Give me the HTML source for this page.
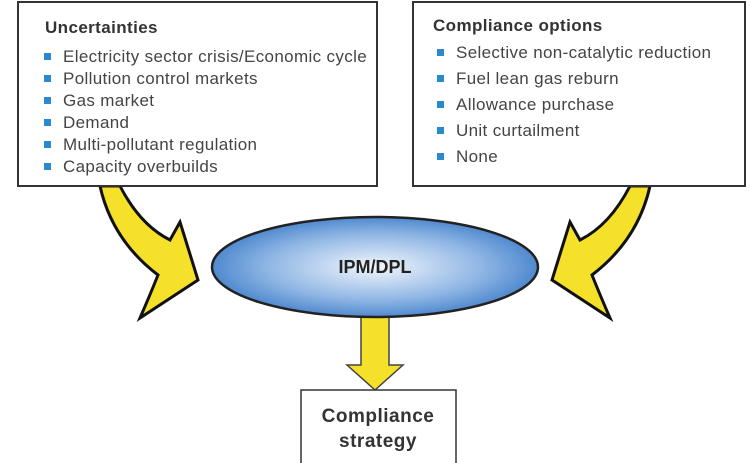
<!DOCTYPE html>
<html><head><style>
body{margin:0;width:750px;height:463px;overflow:hidden;background:#fff;font-family:"Liberation Sans",sans-serif}
svg{position:absolute;left:0;top:0}
</style></head><body>
<svg width="750" height="463" viewBox="0 0 750 463">
<defs>
<radialGradient id="g" cx="0.5" cy="0.5" r="0.55">
<stop offset="0" stop-color="#f2f6fc"/><stop offset="0.6" stop-color="#8fb6e4"/><stop offset="1" stop-color="#3d7cc9"/>
</radialGradient>
</defs>
<path d="M120 186 Q140 225 170 240 L180 222 L198 280 L140 318 Q150 295 158 275 Q112 240 100 186 Z" fill="#f5e12a" stroke="#111" stroke-width="3" stroke-linejoin="miter"/>
<path d="M630 186 Q610 225 580 240 L570 222 L552 280 L610 318 Q600 295 592 275 Q638 240 650 186 Z" fill="#f5e12a" stroke="#111" stroke-width="3"/>
<rect x="18" y="2" width="359" height="184" fill="#fff" stroke="#333" stroke-width="2"/>
<rect x="413" y="2" width="332" height="184" fill="#fff" stroke="#333" stroke-width="2"/>
<g font-size="17" fill="#444" letter-spacing="0.35">
<text x="45" y="33" font-weight="bold" fill="#333" letter-spacing="0.4">Uncertainties</text>
<text x="63" y="62">Electricity sector crisis/Economic cycle</text>
<text x="63" y="84">Pollution control markets</text>
<text x="63" y="106">Gas market</text>
<text x="63" y="128">Demand</text>
<text x="63" y="150">Multi-pollutant regulation</text>
<text x="63" y="172">Capacity overbuilds</text>
<text x="433" y="31" font-weight="bold" fill="#333" letter-spacing="0.4">Compliance options</text>
<text x="456" y="58">Selective non-catalytic reduction</text>
<text x="456" y="84">Fuel lean gas reburn</text>
<text x="456" y="110">Allowance purchase</text>
<text x="456" y="136">Unit curtailment</text>
<text x="456" y="162">None</text>
</g>
<g fill="#2a8ad0">
<rect x="44" y="53" width="7" height="7"/><rect x="44" y="75" width="7" height="7"/><rect x="44" y="97" width="7" height="7"/>
<rect x="44" y="119" width="7" height="7"/><rect x="44" y="141" width="7" height="7"/><rect x="44" y="163" width="7" height="7"/>
<rect x="437" y="49" width="7" height="7"/><rect x="437" y="75" width="7" height="7"/><rect x="437" y="101" width="7" height="7"/>
<rect x="437" y="127" width="7" height="7"/><rect x="437" y="153" width="7" height="7"/>
</g>
<path d="M361 316 L389 316 L389 365 L403 365 L375 390 L347 365 L361 365 Z" fill="#f5e12a" stroke="#444" stroke-width="1.5"/>
<ellipse cx="375" cy="267" rx="163" ry="50" fill="url(#g)" stroke="#222" stroke-width="2.5"/>
<text x="375" y="273" font-size="18" font-weight="bold" fill="#222" text-anchor="middle">IPM/DPL</text>
<rect x="301" y="390" width="155" height="80" fill="#fff" stroke="#333" stroke-width="1.5"/>
<text x="378" y="422" font-size="19" font-weight="bold" fill="#333" text-anchor="middle" letter-spacing="0.5">Compliance</text>
<text x="378" y="447" font-size="19" font-weight="bold" fill="#333" text-anchor="middle" letter-spacing="0.5">strategy</text>
</svg>
</body></html>
